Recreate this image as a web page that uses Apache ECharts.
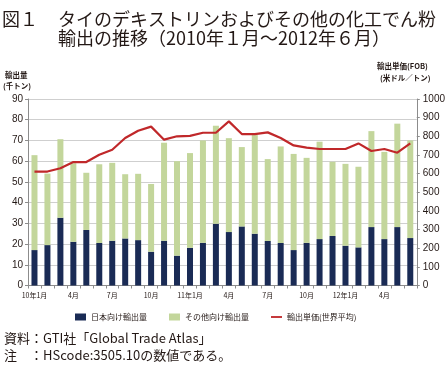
<!DOCTYPE html>
<html>
<head>
<meta charset="utf-8">
<script src="https://cdn.jsdelivr.net/npm/echarts@6/dist/echarts.min.js"></script>
<style>
html,body{margin:0;padding:0;background:#fff;}
#c{width:448px;height:372px;}
</style>
</head>
<body>
<div id="c"></div>
<script>
// Categories (Jan 2010 - Jun 2012)
const categories = [
  '10年1月','10年2月','10年3月','10年4月','10年5月','10年6月','10年7月','10年8月','10年9月','10年10月','10年11月','10年12月',
  '11年1月','11年2月','11年3月','11年4月','11年5月','11年6月','11年7月','11年8月','11年9月','11年10月','11年11月','11年12月',
  '12年1月','12年2月','12年3月','12年4月','12年5月','12年6月'
];
// 日本向け輸出量 (千トン)
const japanVolume = [17.1,19.5,32.7,21.1,26.8,20.5,21.6,22.7,21.9,16.3,21.6,14.4,18.2,20.6,29.8,25.8,28.5,25.0,21.5,20.5,17.1,20.6,22.4,23.9,19.2,18.4,28.2,22.4,28.2,22.9];
// その他向け輸出量 (千トン)
const otherVolume = [45.8,34.5,37.9,37.9,27.6,38.0,37.6,31.0,32.0,32.7,47.3,45.6,45.7,49.4,47.3,45.3,38.3,47.6,39.5,46.6,46.4,41.0,47.0,35.8,39.5,38.9,46.3,42.1,49.9,47.1];
// 輸出単価(世界平均) (米ドル/トン)
const unitPrice = [611,611,629,662,662,701,728,791,830,852,782,800,802,819,819,880,812,812,821,791,751,739,732,732,732,762,721,732,712,762];

const seriesNames = ['日本向け輸出量','その他向け輸出量','輸出単価(世界平均)'];
const titleLine1a = '図１';
const titleLine1b = 'タイのデキストリンおよびその他の化工でん粉';
const titleLine2 = '輸出の推移（2010年１月～2012年６月）';
const leftAxisName = ['輸出量','(千トン)'];
const rightAxisName = ['輸出単価(FOB)','(米ドル／トン)'];
const notes = ['資料：GTI社「Global Trade Atlas」','注　：HScode:3505.10の数値である。'];

const TXT = '#231815';
const CJK = '"Noto Sans CJK JP","Noto Sans",sans-serif';
const NUM = '"Liberation Sans Narrow","Liberation Sans",Arial,sans-serif';
const AX = '#8c8c8c';

const chart = echarts.init(document.getElementById('c'), null, {renderer:'canvas'});
chart.setOption({
  animation:false,
  backgroundColor:'#fff',
  textStyle:{fontFamily:CJK},
  grid:{left:28,right:28,top:99,bottom:86.5,containLabel:false},
  legend:{
    left:70, top:308, itemWidth:11, itemHeight:7, itemGap:22,
    textStyle:{fontSize:8,color:TXT,fontFamily:CJK},
    data:[
      {name:seriesNames[0],icon:'rect'},
      {name:seriesNames[1],icon:'rect'},
      {name:seriesNames[2],icon:'path://M0,0 M0,2.5 L12,2.5 L12,4.5 L0,4.5 Z M12,7'}
    ]
  },
  xAxis:{
    type:'category', data:categories, boundaryGap:true,
    axisLine:{lineStyle:{color:AX,width:1}},
    axisTick:{show:true,interval:0,length:3,lineStyle:{color:AX}},
    axisLabel:{interval:2,fontSize:7,color:TXT,margin:6,fontFamily:CJK,
      formatter:v=> /年1月$/.test(v) ? v : v.replace(/^\d+年/,'')}
  },
  yAxis:[
    {type:'value',min:0,max:90,interval:10,
     axisLine:{show:true,lineStyle:{color:AX}},
     axisTick:{show:true,length:3,lineStyle:{color:AX}},
     splitLine:{show:true,lineStyle:{color:'#cfcfcf',width:1}},
     axisLabel:{fontSize:10,color:TXT,margin:5,fontFamily:NUM,formatter:v=>String(v)}},
    {type:'value',min:0,max:1000,interval:100,
     axisLine:{show:true,lineStyle:{color:AX}},
     axisTick:{show:true,length:3,lineStyle:{color:AX}},
     splitLine:{show:false},
     axisLabel:{fontSize:10,color:TXT,margin:6,fontFamily:NUM,formatter:v=>String(v)}}
  ],
  series:[
    {name:seriesNames[0],type:'bar',stack:'v',data:japanVolume,barWidth:6,
     itemStyle:{color:'#1a2b55'},z:2},
    {name:seriesNames[1],type:'bar',stack:'v',data:otherVolume,barWidth:6,
     itemStyle:{color:'#c3d69b'},z:2},
    {name:seriesNames[2],type:'line',yAxisIndex:1,data:unitPrice,symbol:'none',
     lineStyle:{color:'#c0282a',width:2.2},itemStyle:{color:'#c0282a'},z:5}
  ],
  graphic:[
    {type:'text',left:2,top:10,style:{text:titleLine1a,font:'18px '+CJK,fill:TXT}},
    {type:'text',left:58,top:10,style:{text:titleLine1b,font:'18px '+CJK,fill:TXT}},
    {type:'text',left:58,top:29,style:{text:titleLine2,font:'18px '+CJK,fill:TXT}},
    {type:'text',left:5,top:71,style:{text:leftAxisName[0],font:'bold 7.5px '+CJK,fill:TXT}},
    {type:'text',left:3,top:82,style:{text:leftAxisName[1],font:'bold 7.5px '+CJK,fill:TXT}},
    {type:'text',left:377,top:62,style:{text:rightAxisName[0],font:'bold 7.5px '+CJK,fill:TXT}},
    {type:'text',left:380,top:74,style:{text:rightAxisName[1],font:'bold 7.5px '+CJK,fill:TXT}},
    {type:'text',left:4,top:332,style:{text:notes[0],font:'13px '+CJK,fill:TXT}},
    {type:'text',left:4,top:349,style:{text:notes[1],font:'13px '+CJK,fill:TXT}}
  ]
});
</script>
</body>
</html>
